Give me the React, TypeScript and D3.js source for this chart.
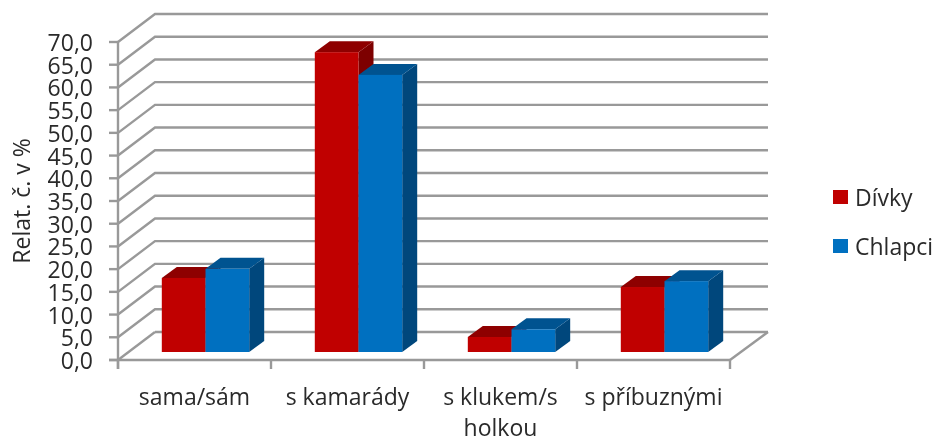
import React from "react";
import * as d3 from "d3";

const categories = ["sama/sám", "s kamarády", "s klukem/s", "s příbuznými"];
const categoryExtraLine = ["", "", "holkou", ""];
const seriesNames = ["Dívky", "Chlapci"];
const divky = [16.3, 66.0, 3.3, 14.3];
const chlapci = [18.3, 61.0, 5.0, 15.6];
const yTicks = d3.range(0, 75, 5);

const W = 935, H = 440;
const x0 = 118, x1 = 730, yBottom = 360, yTop = 42;
const wallDx = 37, wallDy = -28;
const barDx = 15, barDy = -11;
const barBaseDy = -8;
const font = "'Open Sans', sans-serif";
const textColor = "#2a2a2a";
const gridColor = "#999999";
const colors = [
  { front: "#c00000", top: "#8e0000", side: "#7d0000" },
  { front: "#0070c0", top: "#005390", side: "#00477c" },
];

const xScale = d3.scaleBand<number>().domain(d3.range(categories.length)).range([x0, x1]);
const yScale = d3.scaleLinear().domain([0, 70]).range([yBottom, yTop]);
const barW = 43.7;
const poly = (p: number[][]) => p.map((q) => q.join(",")).join(" ");

function Bar({ x, value, c }: { x: number; value: number; c: (typeof colors)[0] }) {
  const yb = yBottom + barBaseDy;
  const yt = yScale(value) + barBaseDy;
  const r = x + barW;
  return (
    <g>
      <polygon points={poly([[r, yt], [r + barDx, yt + barDy], [r + barDx, yb + barDy], [r, yb]])} fill={c.side} />
      <polygon points={poly([[x, yt], [x + barDx, yt + barDy], [r + barDx, yt + barDy], [r, yt]])} fill={c.top} />
      <rect x={x} y={yt} width={barW} height={yb - yt} fill={c.front} />
    </g>
  );
}

export default function App() {
  const band = xScale.bandwidth();
  return (
    <svg width={W} height={H} style={{ position: "absolute", left: 0, top: 0, background: "#fff" }} fontFamily={font}>
      <defs>
        <filter id="soft" x="-2%" y="-2%" width="104%" height="104%">
          <feGaussianBlur stdDeviation="0.5" />
        </filter>
      </defs>
      <g filter="url(#soft)">
        {yTicks.map((t) => {
          const y = yScale(t);
          return (
            <g key={t} stroke={gridColor} strokeWidth={2.4} fill="none">
              {t > 0 && <polyline points={poly([[x0, y], [x0 + wallDx, y + wallDy], [x1 + wallDx + 1, y + wallDy]])} />}
              {t === 0 && <polyline points={poly([[x0, y], [x0 + wallDx, y + wallDy]])} />}
              <line x1={x0 - 9} x2={x0} y1={y} y2={y} />
            </g>
          );
        })}
        <g stroke={gridColor} strokeWidth={2.4} fill="none">
          <line x1={x0 + wallDx} x2={x1 + wallDx + 1} y1={yBottom + wallDy} y2={yBottom + wallDy} />
          <line x1={x1} y1={yBottom} x2={x1 + wallDx + 1} y2={yBottom + wallDy} />
          <line x1={x0} x2={x0} y1={yTop} y2={yBottom + 9} />
          <line x1={x0 - 9} x2={x1} y1={yBottom} y2={yBottom} />
          {d3.range(categories.length + 1).map((i) => {
            const x = x0 + i * band;
            return <line key={i} x1={x} x2={x} y1={yBottom} y2={yBottom + 9} />;
          })}
        </g>
        {categories.map((_, i) => {
          const cx = (xScale(i) as number) + band / 2 + 11;
          return (
            <g key={i}>
              <Bar x={cx - barW} value={divky[i]} c={colors[0]} />
              <Bar x={cx} value={chlapci[i]} c={colors[1]} />
            </g>
          );
        })}
        <g fill={textColor} fontSize={23}>
          {yTicks.map((t) => (
            <text key={t} x={93} y={yScale(t) + 9} textAnchor="end">
              {d3.format(".1f")(t).replace(".", ",")}
            </text>
          ))}
          {categories.map((c, i) => {
            const cx = (xScale(i) as number) + band / 2;
            return (
              <g key={i} textAnchor="middle">
                <text x={cx} y={405}>{c}</text>
                {categoryExtraLine[i] && <text x={cx} y={436}>{categoryExtraLine[i]}</text>}
              </g>
            );
          })}
          <text transform="translate(30,201) rotate(-90)" textAnchor="middle">Relat. č. v %</text>
          {seriesNames.map((s, i) => (
            <g key={s}>
              <rect x={833} y={190 + i * 49} width={15} height={14} fill={colors[i].front} />
              <text x={855} y={206 + i * 49}>{s}</text>
            </g>
          ))}
        </g>
      </g>
    </svg>
  );
}
